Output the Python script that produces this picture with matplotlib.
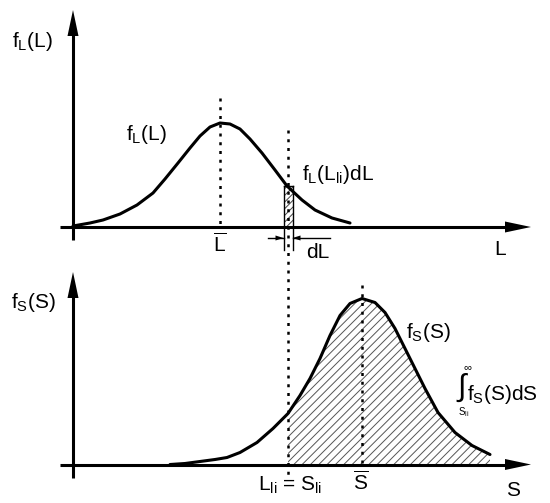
import matplotlib
matplotlib.use('Agg')
import matplotlib.pyplot as plt
from matplotlib.patches import Rectangle

plt.rcParams['font.family'] = ['Liberation Sans', 'DejaVu Sans']
plt.rcParams['mathtext.fontset'] = 'custom'
plt.rcParams['mathtext.rm'] = 'Liberation Sans'
plt.rcParams['mathtext.it'] = 'Liberation Sans'
plt.rcParams['mathtext.default'] = 'regular'
plt.rcParams['hatch.linewidth'] = 0.7

# ---- data (schematic units: offsets along axis, heights above axis) ----
L_pts = [0, 17, 30, 47, 64, 80, 92, 105, 117, 127, 137, 147, 157, 167, 177, 189,
         202, 214, 229, 242, 259, 277]
fL_pts = [1, 4, 7, 13, 22, 34, 48, 64, 79, 91, 100, 104, 103, 98, 88, 74,
          57, 41, 27, 17, 9, 4]
L_mean = 147
L_li = 215
dL = 9
fL_li = 41

S_pts = [97, 112, 127, 142, 154, 167, 184, 200, 215, 227, 237, 247, 257, 267, 277, 289,
         302, 312, 322, 332, 342, 352, 365, 382, 399, 417]
fS_pts = [0, 1, 3, 5, 7, 12, 22, 36, 51, 69, 86, 106, 129, 149, 161, 166,
          162, 152, 136, 116, 96, 76, 52, 32, 19, 10]
S_mean = 289
S_li = 215

# ---- layout ----
W, H = 550, 503
fig = plt.figure(figsize=(5.5, 5.03), dpi=100)
ax = fig.add_axes([0, 0, 1, 1])
ax.set_xlim(0, W)
ax.set_ylim(H, 0)
ax.axis('off')

x0 = 73          # y-axis x position
yT = 227         # top x-axis
yB = 464.5       # bottom x-axis

def axes_arrows(ybase, ytop):
    ax.plot([60, 515], [ybase, ybase], color='k', lw=2.2, solid_capstyle='butt')
    ax.arrow(505, ybase, 26, 0, width=0.1, head_width=11, head_length=26,
             length_includes_head=True, color='k', lw=0)
    ax.plot([x0, x0], [ybase + 13, ytop + 20], color='k', lw=2.2, solid_capstyle='butt')
    ax.arrow(x0, ytop + 26, 0, -26, width=0.1, head_width=11, head_length=26,
             length_includes_head=True, color='k', lw=0)

axes_arrows(yT, 10)
axes_arrows(yB, 272)

dot = dict(color='k', lw=1.8, ls=(0, (1.2, 2.3)))

# top curve
Lx = [x0 + v for v in L_pts]
Ly = [yT - v for v in fL_pts]
ax.plot(Lx, Ly, color='k', lw=2.2, solid_capstyle='round', solid_joinstyle='round')
ax.plot([x0 + L_mean, x0 + L_mean], [98, yT], **dot)

# dL strip
xl = x0 + L_li - dL / 2
xr = x0 + L_li + dL / 2
ax.add_patch(Rectangle((xl, yT - fL_li), dL, fL_li,
                       facecolor='none', edgecolor='#444444', hatch='/////', lw=0))
for xe in (xl, xr):
    ax.plot([xe, xe], [yT - fL_li, 250], color='k', lw=1.0)
ax.plot([xl, xr], [yT - fL_li, yT - fL_li], color='k', lw=1.0)
# dL arrows
ax.plot([268, xl], [238, 238], color='k', lw=1.0)
ax.plot([xr, 330], [238, 238], color='k', lw=1.0)
ax.arrow(xl - 8, 238, 8, 0, width=0.05, head_width=5, head_length=8,
         length_includes_head=True, color='k', lw=0)
ax.arrow(xr + 8, 238, -8, 0, width=0.05, head_width=5, head_length=8,
         length_includes_head=True, color='k', lw=0)

# Li = Si dotted line across both panels
ax.plot([x0 + L_li, x0 + L_li], [130, 475], **dot)

# bottom curve
Sx = [x0 + v for v in S_pts]
Sy = [yB - v for v in fS_pts]
i0 = S_pts.index(S_li)
ax.fill_between(Sx[i0:], Sy[i0:], yB, facecolor='none', edgecolor='#555555',
                hatch='////', lw=0)
ax.plot(Sx, Sy, color='k', lw=2.2, solid_capstyle='round', solid_joinstyle='round')
ax.plot([x0 + S_mean, x0 + S_mean], [285, yB], **dot)

# ---- texts ----
fs = 15
ax.text(32, 41, r'f$_{\mathrm{L}}$(L)', fontsize=fs, ha='center', va='center')
ax.text(146, 135, r'f$_{\mathrm{L}}$(L)', fontsize=fs, ha='center', va='center')
ax.text(302, 174, r'f$_{\mathrm{L}}$(L$_{\mathrm{li}}$)dL', fontsize=fs, ha='left', va='center')
ax.text(x0 + L_mean, 244, r'$\overline{\mathrm{L}}$', fontsize=fs, ha='center', va='center')
ax.text(318, 253, 'dL', fontsize=fs, ha='center', va='center')
ax.text(500, 249, 'L', fontsize=fs, ha='center', va='center')

ax.text(33, 303, r'f$_{\mathrm{S}}$(S)', fontsize=fs, ha='center', va='center')
ax.text(428, 333, r'f$_{\mathrm{S}}$(S)', fontsize=fs, ha='center', va='center')
ax.text(462, 388, '\u222b', fontsize=22, ha='center', va='center')
ax.text(467, 367, '\u221e', fontsize=8, ha='center', va='center')
ax.text(464, 412, r'S$_{\mathrm{li}}$', fontsize=7, ha='center', va='center')
ax.text(467, 394, r'f$_{\mathrm{S}}$(S)dS', fontsize=fs, ha='left', va='center')
ax.text(x0 + L_li + 2, 485, r'L$_{\mathrm{li}}$ = S$_{\mathrm{li}}$', fontsize=fs, ha='center', va='center')
ax.text(x0 + S_mean - 1, 482, r'$\overline{\mathrm{S}}$', fontsize=fs, ha='center', va='center')
ax.text(513, 490, 'S', fontsize=fs, ha='center', va='center')

fig.savefig('out.png', dpi=100)
